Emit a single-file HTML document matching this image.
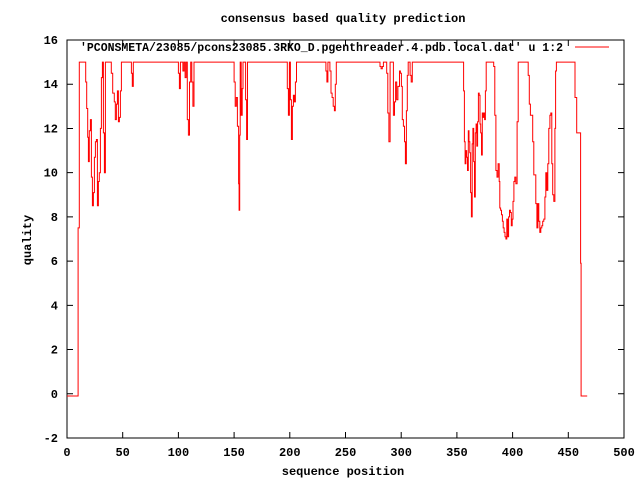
<!DOCTYPE html>
<html><head><meta charset="utf-8"><style>
body{margin:0;background:#fff}
svg text{font-family:"Liberation Mono","DejaVu Sans Mono",monospace;font-size:12px;font-weight:bold;fill:#000}
</style></head><body>
<svg id="chart" width="640" height="480" xmlns="http://www.w3.org/2000/svg">
<rect x="0" y="0" width="640" height="480" fill="#fff"/>
<text x="343" y="22" text-anchor="middle">consensus based quality prediction</text>
<text x="31" y="240" text-anchor="middle" transform="rotate(-90 31 240)">quality</text>
<text x="343" y="475" text-anchor="middle">sequence position</text>
<g id="axes"></g>
<g id="series"></g>
<text x="80" y="51" textLength="483" lengthAdjust="spacingAndGlyphs">'PCONSMETA/23085/pcons23085.3RKO_D.pgenthreader.4.pdb.local.dat' u 1:2</text>
<line x1="575" y1="47" x2="609" y2="47" stroke="#f00" stroke-width="1"/>
</svg>
<script>
const xTicks=[0,50,100,150,200,250,300,350,400,450,500];
const yTicks=[-2,0,2,4,6,8,10,12,14,16];
const posX=[0,10,11,16.8,17.7,18.6,19.2,20,21,21.9,22.8,23.7,24.6,25.5,26.4,27.3,28.2,29,30,30.9,31.8,32.7,33.6,34.5,39.8,41,42.5,43.4,44.3,45.2,46.1,47,47.9,48.8,57.8,58.6,59.5,
100,100.9,101.8,104,105,106,107,108,109,110,111,112,113,114,
150,151,152,153,154,154.5,155,155.5,156.4,157.3,158,160.3,161.2,162,
197.8,198.7,199.6,200.5,201.4,202.3,203.2,204.1,205,206,
232.4,233.3,234.2,236,237,238,239,240,240.8,241.7,
281,282,283,284,287,288,289,290,292.2,293,294,295,296,297,298.5,299.3,300.2,301,302,303,303.8,304.7,305.5,306.3,307,308,309,310,311,
356,356.7,357.4,358.1,358.8,359.5,360.2,360.9,361.6,362.3,363,363.7,364.4,365.1,365.8,366.5,367.2,367.9,368.6,369.3,370,370.7,371.4,372.1,372.8,373.5,374.2,374.9,375.6,376.3,
383,384,385,386,387,388,388.5,389.2,390,390.8,391.6,392.4,393.2,394,394.8,395.6,396.4,397.2,398,398.8,399.6,400.4,401.2,402,403,404,405,
414,415,416,417,418,419,420.8,421.8,422.7,423.5,424.4,425.3,426.2,427,428,429,429.8,430.7,431.6,432.5,433.5,434.3,435.2,436,437,438,438.6,439.3,
456,457.5,461,461.5,467];
const quality=[-0.1,7.5,15,14.1,12.9,11.6,10.5,11.9,12.4,9.8,8.5,9.1,10.7,11.4,11.5,8.5,9.6,10,12,14.3,15,11.8,10,15,14.5,13.6,13.2,12.4,13.1,13.7,12.3,12.5,13.7,15,14.5,13.9,15,
14.5,13.8,15,14.6,15,14.3,15,12.4,11.7,14.1,15,14.1,13,15,
14.1,13,13.4,12.1,9.5,8.3,11.7,15,12.6,13.8,15,13.3,11.5,15,
13.8,12.6,15,13.3,11.5,13,13.5,13.2,14.1,15,
14.6,14.1,15,14.6,13.6,13.4,13,12.8,14,15,
14.8,14.7,14.8,15,14.5,12.7,11.4,15,15,12.6,13.2,14.1,13.3,13.9,14.6,14.5,13.9,12.4,12.1,11.4,10.4,12.8,14.4,15,15,14.4,14.1,15,15,
13.7,11.4,10.4,11,10.7,10.1,11.9,11.4,10.9,9.1,8,11.3,12,10.5,8.9,11.8,12.2,11.2,12.3,13.6,13.5,12.2,11.8,10.8,12.7,12.5,12.7,12.4,13.7,15,
14.8,12.6,10.1,9.8,10.4,9.6,8.4,8.3,8.1,7.8,7.5,7.3,7.1,7,7.9,7.1,8,8.3,8.2,7.6,7.9,8.7,9.6,9.8,9.5,12.3,15,
14.4,13.1,12.6,12.6,11.4,9.9,8.6,7.5,8.6,7.8,7.3,7.5,7.6,7.8,7.9,8.9,10,9.2,10.4,12,12.6,12.7,10.4,9,8.7,12,14.6,15,
13.4,11.8,5.9,-0.1,-0.1];
const NS="http://www.w3.org/2000/svg";
const L=67,R=624,T=40,B=438;
function sx(v){return L+(v-0)/(500-0)*(R-L);}
function sy(v){return B-(v-(-2))/(16-(-2))*(B-T);}
const axes=document.getElementById('axes');
function mk(tag,attrs,parent){const e=document.createElementNS(NS,tag);for(const k in attrs)e.setAttribute(k,attrs[k]);parent.appendChild(e);return e;}
const frame=mk('rect',{x:L,y:T,width:R-L,height:B-T,fill:'none',stroke:'#000','stroke-width':1},axes);


xTicks.forEach(t=>{
  const x=sx(t);
  const tk=mk('path',{d:`M${x} ${B}v-6M${x} ${T}v6`,stroke:'#000','stroke-width':1},axes);
  
  
  const lb=mk('text',{x:x,y:B+18,'text-anchor':'middle'},axes);
  lb.textContent=t;
  
  
});
yTicks.forEach(t=>{
  const y=sy(t);
  const tk=mk('path',{d:`M${L} ${y}h6M${R} ${y}h-6`,stroke:'#000','stroke-width':1},axes);
  
  
  const lb=mk('text',{x:L-9,y:y+4,'text-anchor':'end'},axes);
  lb.textContent=t;
  
  
});
let d='';
const n=Math.min(posX.length,quality.length);
for(let i=0;i<n;i++){
  const x=sx(posX[i]).toFixed(1),y=sy(quality[i]).toFixed(1);
  if(i===0)d+=`M${x} ${y}`;else d+=`H${x}V${y}`;
}
const line=mk('path',{d:d,fill:'none',stroke:'#f00','stroke-width':1},document.getElementById('series'));


</script>
</body></html>
